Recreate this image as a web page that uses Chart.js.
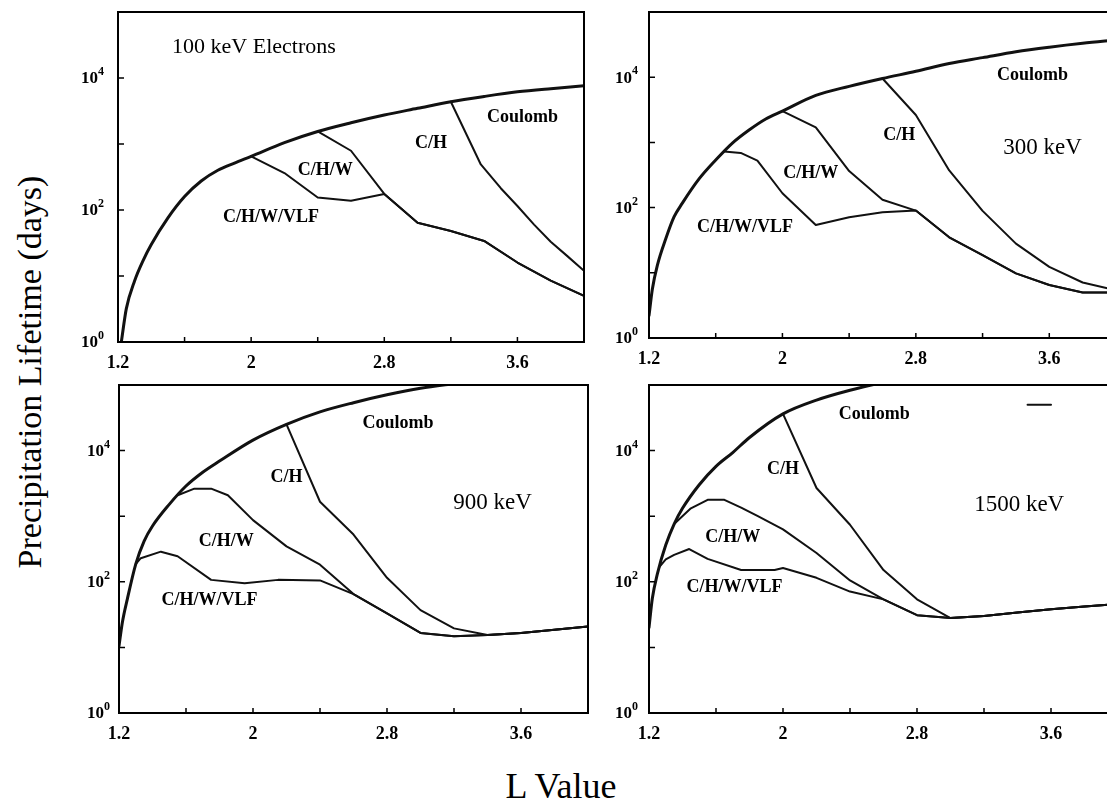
<!DOCTYPE html>
<html><head><meta charset="utf-8">
<script src="https://cdn.jsdelivr.net/npm/chart.js@4/dist/chart.umd.min.js"></script>
<style>
html,body{margin:0;padding:0;background:#fff;width:1107px;height:800px;overflow:hidden;position:relative;}
canvas{position:absolute;}
.ttl{position:absolute;font-family:"Liberation Serif","Times New Roman",serif;color:#000;white-space:nowrap;line-height:1;}
</style></head><body>
<div id="ytitle" class="ttl" style="left:30px;top:372px;font-size:34px;transform:translate(-50%,-50%) rotate(-90deg);">Precipitation Lifetime (days)</div>
<div id="xtitle" class="ttl" style="left:561px;top:786px;font-size:36px;transform:translate(-50%,-50%);">L Value</div>
<canvas id="c1"></canvas><canvas id="c2"></canvas><canvas id="c3"></canvas><canvas id="c4"></canvas>
<script>
// ---- axis ticks ----
const xTicks = [1.2, 1.6, 2.0, 2.4, 2.8, 3.2, 3.6, 4.0];
const xTickLabels = ['1.2', '', '2', '', '2.8', '', '3.6', ''];
const yTicks = [1, 10, 100, 1000, 10000, 100000];
const yTickExps = ['0', '', '2', '', '4', ''];

// ---- 100 keV ----
const L100_C   = [1.22,1.25,1.3,1.35,1.4,1.5,1.6,1.7,1.8,1.9,2.0,2.2,2.4,2.6,2.8,3.0,3.2,3.4,3.6,3.8,4.0];
const v100_C   = [1,3.2,8.5,17,30,76,160,275,400,515,650,1050,1550,2100,2750,3470,4370,5250,6170,6900,7600];
const L100_CH  = [3.2,3.38,3.5,3.6,3.7,3.8,3.9,4.0];
const v100_CH  = [4370,490,214,115,60,33,20,12];
const L100_CHW = [2.4,2.6,2.8,3.0,3.2,3.4,3.6,3.8,4.0];
const v100_CHW = [1550,790,175,64,48,34,16,8.5,5];
const L100_VLF = [2.0,2.2,2.4,2.6,2.8,3.0,3.2,3.4,3.6,3.8,4.0];
const v100_VLF = [650,363,155,138,175,64,48,34,16,8.5,5];

// ---- 300 keV ----
const L300_C   = [1.2,1.22,1.25,1.3,1.35,1.4,1.5,1.6,1.7,1.8,1.9,2.0,2.2,2.4,2.6,2.8,3.0,3.2,3.4,3.6,3.8,4.0];
const v300_C   = [2.2,5.6,13,33,72,117,275,537,977,1550,2290,3020,5250,7240,9550,12300,16200,19950,24550,28840,33110,37150];
const L300_CH  = [2.6,2.8,3.0,3.2,3.4,3.6,3.8,4.0];
const v300_CH  = [9550,2630,372,89,28,12.3,7.1,5.4];
const L300_CHW = [2.0,2.2,2.4,2.6,2.8,3.0,3.2,3.4,3.6,3.8,4.0];
const v300_CHW = [3020,1700,363,132,90,35,18.6,9.8,6.5,5,5];
const L300_VLF = [1.65,1.75,1.85,2.0,2.2,2.4,2.6,2.8,3.0,3.2,3.4,3.6,3.8,4.0];
const v300_VLF = [724,690,525,166,54,71,85,90,35,18.6,9.8,6.5,5,5];

// ---- 900 keV ----
const L900_C   = [1.2,1.22,1.25,1.3,1.35,1.4,1.5,1.6,1.7,1.8,2.0,2.2,2.4,2.6,2.8,3.0,3.2,3.6,4.0];
const v900_C   = [10.5,24,55,186,417,708,1514,2884,4677,6918,14450,25120,38900,53700,70800,89100,104700,141000,186000];
const L900_CH  = [2.2,2.4,2.6,2.8,3.0,3.2,3.4,3.6,3.8,4.0];
const v900_CH  = [25120,1660,525,115,37,19.5,15.5,16.6,18.6,20.9];
const L900_CHW = [1.55,1.65,1.75,1.85,2.0,2.2,2.4,2.6,2.8,3.0,3.2,3.4,3.6,3.8,4.0];
const v900_CHW = [2090,2630,2630,2090,871,347,182,65,33,16.6,14.8,15.5,16.6,18.6,20.9];
const L900_VLF = [1.3,1.33,1.45,1.55,1.75,1.95,2.15,2.4,2.6,2.8,3.0,3.2,3.4,3.6,3.8,4.0];
const v900_VLF = [186,229,288,245,107,95,107,105,65,33,16.6,14.8,15.5,16.6,18.6,20.9];

// ---- 1500 keV ----
const L1500_C   = [1.2,1.22,1.25,1.3,1.35,1.4,1.5,1.6,1.7,1.8,2.0,2.2,2.4,2.6,2.8,3.2,3.6,4.0];
const v1500_C   = [20,56,132,363,759,1318,3020,5754,9333,15850,36300,58900,83200,109600,138000,200000,282000,398000];
const L1500_CH  = [2.0,2.2,2.4,2.6,2.8,3.0,3.2,3.4,3.6,3.8,4.0];
const v1500_CH  = [36300,2690,741,151,54,28,30,34,38,42,46];
const L1500_CHW = [1.35,1.45,1.55,1.65,1.75,1.85,2.0,2.2,2.4,2.6,2.8,3.0,3.2,3.4,3.6,3.8,4.0];
const v1500_CHW = [759,1318,1778,1778,1349,1000,631,275,105,54,31,28,30,34,38,42,46];
const L1500_VLF = [1.26,1.3,1.35,1.44,1.55,1.75,1.95,2.0,2.2,2.4,2.6,2.8,3.0,3.2,3.4,3.6,3.8,4.0];
const v1500_VLF = [166,219,257,316,224,151,151,162,115,71,54,31,28,30,34,38,42,46];
const L1500_mark = [3.46,3.6];
const v1500_mark = [50000,50000];

// ---- text labels (placed in data coordinates) ----
const lab100 = [
  {t:'100 keV Electrons', L:1.525, v:29500, kind:'title'},
  {t:'Coulomb', L:3.63, v:2570},
  {t:'C/H', L:3.08, v:1040},
  {t:'C/H/W', L:2.445, v:405},
  {t:'C/H/W/VLF', L:2.12, v:78}
];
const lab300 = [
  {t:'Coulomb', L:3.50, v:10700},
  {t:'C/H', L:2.70, v:1290},
  {t:'300 keV', L:3.56, v:835, kind:'energy'},
  {t:'C/H/W', L:2.17, v:338},
  {t:'C/H/W/VLF', L:1.776, v:50}
];
const lab900 = [
  {t:'Coulomb', L:2.865, v:26300},
  {t:'C/H', L:2.20, v:3980},
  {t:'900 keV', L:3.43, v:1585, kind:'energy'},
  {t:'C/H/W', L:1.84, v:407},
  {t:'C/H/W/VLF', L:1.74, v:52.5}
];
const lab1500 = [
  {t:'Coulomb', L:2.545, v:35500},
  {t:'C/H', L:2.0, v:5130},
  {t:'1500 keV', L:3.41, v:1510, kind:'energy'},
  {t:'C/H/W', L:1.70, v:468},
  {t:'C/H/W/VLF', L:1.71, v:83}
];

const FONT = '"Liberation Serif","Times New Roman",serif';
function pts(L, v) { return L.map((l, i) => ({x: l, y: v[i]})); }

const panels = [
  {id:'c1', area:{l:118,t:12,r:584,b:342}, gap:14, labels:lab100,
   series:[[L100_C,v100_C],[L100_CH,v100_CH],[L100_CHW,v100_CHW],[L100_VLF,v100_VLF]]},
  {id:'c2', area:{l:649,t:12,r:1116,b:338}, gap:11, labels:lab300,
   series:[[L300_C,v300_C],[L300_CH,v300_CH],[L300_CHW,v300_CHW],[L300_VLF,v300_VLF]]},
  {id:'c3', area:{l:119,t:385,r:588,b:713}, gap:9, labels:lab900,
   series:[[L900_C,v900_C],[L900_CH,v900_CH],[L900_CHW,v900_CHW],[L900_VLF,v900_VLF]]},
  {id:'c4', area:{l:649,t:385,r:1118,b:713}, gap:11, labels:lab1500,
   series:[[L1500_C,v1500_C],[L1500_CH,v1500_CH],[L1500_CHW,v1500_CHW],[L1500_VLF,v1500_VLF],[L1500_mark,v1500_mark]]}
];
const seriesNames = ['Coulomb','C/H','C/H/W','C/H/W/VLF','mark'];

const deco = {
  id: 'deco',
  afterDatasetsDraw(chart) {
    const c = chart.ctx, a = chart.chartArea, xs = chart.scales.x, ys = chart.scales.y;
    const p = chart.options.plugins.deco;
    c.save();
    c.strokeStyle = '#000';
    c.lineWidth = 2;
    c.strokeRect(a.left, a.top, a.right - a.left, a.bottom - a.top);
    c.lineWidth = 1.5;
    c.beginPath();
    xs.ticks.forEach(t => {
      const px = xs.getPixelForValue(t.value);
      if (px > a.left + 1 && px < a.right - 1) { c.moveTo(px, a.bottom); c.lineTo(px, a.bottom - 5); }
    });
    ys.ticks.forEach(t => {
      const py = ys.getPixelForValue(t.value);
      if (py < a.bottom - 1 && py > a.top + 1) { c.moveTo(a.left, py); c.lineTo(a.left + 6, py); }
    });
    c.stroke();
    c.fillStyle = '#000';
    c.textBaseline = 'middle';
    c.textAlign = 'right';
    ys.ticks.forEach((t, i) => {
      const e = yTickExps[i];
      if (!e) return;
      const py = ys.getPixelForValue(t.value);
      const xr = a.left - p.gap;
      c.font = 'bold 12px ' + FONT;
      const ew = c.measureText(e).width;
      c.fillText(e, xr, py - 6);
      c.font = 'bold 17px ' + FONT;
      c.fillText('10', xr - ew, py + 1);
    });
    p.labels.forEach(lb => {
      const px = xs.getPixelForValue(lb.L), py = ys.getPixelForValue(lb.v);
      if (lb.kind === 'title') { c.font = '22px ' + FONT; c.textAlign = 'left'; }
      else if (lb.kind === 'energy') { c.font = '23px ' + FONT; c.textAlign = 'center'; }
      else { c.font = 'bold 18px ' + FONT; c.textAlign = 'center'; }
      c.fillText(lb.t, px, py);
    });
    c.restore();
  }
};

panels.forEach(pn => {
  const A = pn.area, YW = 60, XH = 44, PT = 6, PR = 6;
  const cv = document.getElementById(pn.id);
  cv.width = A.r - A.l + YW + PR;
  cv.height = A.b - A.t + PT + XH;
  cv.style.left = (A.l - YW) + 'px';
  cv.style.top = (A.t - PT) + 'px';
  const datasets = pn.series.map((s, i) => ({
    label: seriesNames[i],
    data: pts(s[0], s[1]),
    borderColor: '#111',
    borderWidth: i === 0 ? 3 : 2,
    pointRadius: 0,
    tension: 0,
    cubicInterpolationMode: i === 0 ? 'monotone' : 'default',
    borderJoinStyle: 'round',
    borderCapStyle: 'round',
    fill: false
  }));
  new Chart(cv, {
    type: 'line',
    data: { datasets },
    plugins: [deco],
    options: {
      responsive: false,
      animation: false,
      devicePixelRatio: 1,
      events: [],
      layout: { padding: { top: PT, right: PR, left: 0, bottom: 0 } },
      plugins: {
        legend: { display: false },
        tooltip: { enabled: false },
        deco: { gap: pn.gap, labels: pn.labels }
      },
      scales: {
        x: {
          type: 'linear', min: 1.2, max: 4.0,
          afterBuildTicks: s => { s.ticks = xTicks.map(v => ({value: v})); },
          afterFit: s => { s.height = XH; s.paddingLeft = 0; s.paddingRight = 0; },
          grid: { display: false, drawTicks: false },
          border: { display: false },
          ticks: {
            autoSkip: false, maxRotation: 0, padding: 11, color: '#000',
            font: { family: FONT, weight: 'bold', size: 18 },
            callback: (v, i) => xTickLabels[i]
          }
        },
        y: {
          type: 'logarithmic', min: 1, max: 100000,
          afterBuildTicks: s => { s.ticks = yTicks.map(v => ({value: v})); },
          afterFit: s => { s.width = YW; s.paddingTop = 0; s.paddingBottom = 0; },
          grid: { display: false, drawTicks: false },
          border: { display: false },
          ticks: { display: false }
        }
      }
    }
  });
});
</script>
</body></html>
